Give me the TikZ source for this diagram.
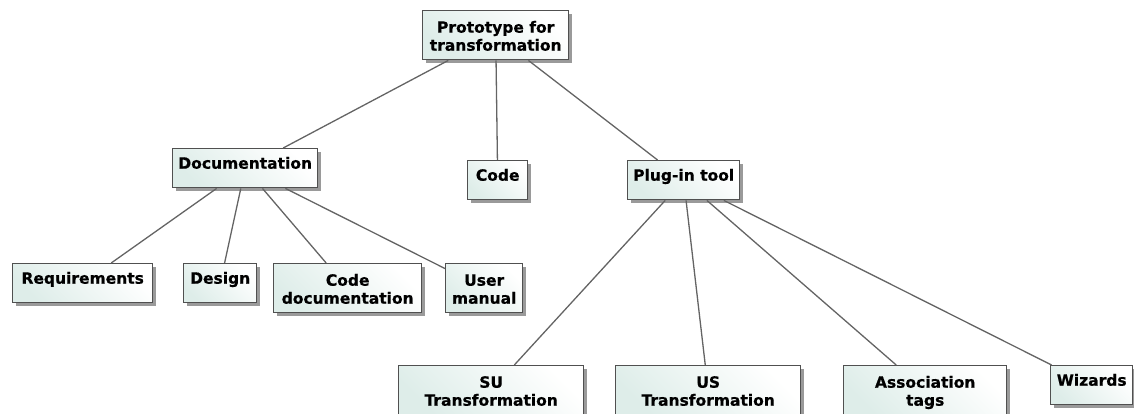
\documentclass[tikz,border=0pt]{standalone}
\usepackage{fontspec}
\setmainfont{DejaVu Sans}[BoldFeatures={FakeBold=0.6}]
\usetikzlibrary{shadows}

\definecolor{boxline}{RGB}{80,80,80}
\definecolor{edgeline}{RGB}{100,100,100}
\definecolor{boxtint}{RGB}{222,237,233}
\definecolor{shadowgray}{RGB}{120,120,120}

% two centred lines whose baseline is the first line
\newcommand\twoline[2]{\vtop{\halign{\hfil##\hfil\cr#1\cr#2\cr}}}

\tikzset{
  x=1pt, y=-1pt,
  box/.style={
    draw=boxline, line width=1.4pt, rectangle, anchor=north west,
    inner sep=0pt, minimum height=39pt,
    top color=white, bottom color=boxtint, shading angle=-45,
    text height=20pt, text depth=19pt,
    font=\fontsize{15.5}{18}\selectfont\bfseries,
    drop shadow={shadow xshift=3pt, shadow yshift=-3pt, fill=shadowgray, opacity=0.75}
  },
  tallbox/.style={box, minimum height=49pt, text height=22pt, text depth=27pt},
  edge/.style={draw=edgeline, line width=1.3pt}
}

\begin{document}
\begin{tikzpicture}
\useasboundingbox (0,0) rectangle (1134,413);
\clip (0,0) rectangle (1134,413);

% root
\node[tallbox, minimum width=146pt] (proto) at (422,10) {\twoline{Prototype for}{transformation}};

% second level
\node[box, minimum width=145pt] (doc) at (172,148) {Documentation};
\node[box, minimum width=60pt] (code) at (467,160) {Code};
\node[box, minimum width=112pt] (plug) at (627,160) {Plug-in tool};

% documentation parts
\node[box, minimum width=140pt] (req) at (12,263) {Requirements};
\node[box, minimum width=73pt] (design) at (183,263) {Design};
\node[tallbox, minimum width=148pt] (codedoc) at (273,263) {\twoline{Code}{documentation}};
\node[tallbox, minimum width=77pt] (manual) at (445,263) {\twoline{User}{manual}};

% plug-in parts
\node[tallbox, minimum width=185pt] (su) at (398,365) {\twoline{SU}{Transformation}};
\node[tallbox, minimum width=185pt] (us) at (615,365) {\twoline{US}{Transformation}};
\node[tallbox, minimum width=163pt] (assoc) at (843,365) {\twoline{Association}{tags}};
\node[box, minimum width=82pt] (wiz) at (1050,365) {Wizards};

% connectors
\draw[edge] (proto) -- (doc);
\draw[edge] (proto) -- (code);
\draw[edge] (proto) -- (plug);
\draw[edge] (doc) -- (req);
\draw[edge] (doc) -- (design);
\draw[edge] (doc) -- (codedoc);
\draw[edge] (doc) -- (manual);
\draw[edge] (plug) -- (su);
\draw[edge] (plug) -- (us);
\draw[edge] (plug) -- (assoc);
\draw[edge] (plug) -- (wiz);
\end{tikzpicture}
\end{document}
